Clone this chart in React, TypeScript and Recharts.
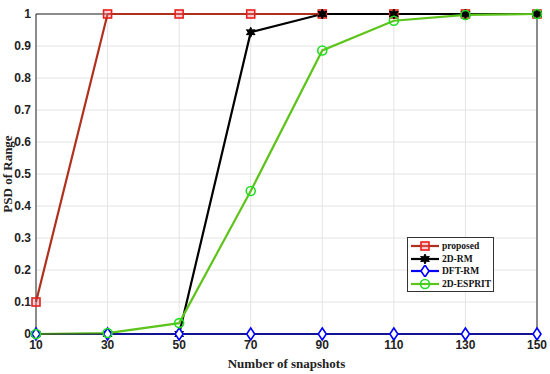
import React from 'react';
import { LineChart, Line, XAxis, YAxis, CartesianGrid, ReferenceLine } from 'recharts';

const snapshots = [10, 30, 50, 70, 90, 110, 130, 150];
const proposed = [0.1, 1, 1, 1, 1, 1, 1, 1];
const rm2d = [0, 0, 0, 0.943, 1, 1, 1, 1];
const dftRm = [0, 0, 0, 0, 0, 0, 0, 0];
const esprit2d = [0, 0.003, 0.034, 0.447, 0.886, 0.979, 0.997, 1];
const yTicks = [0, 0.1, 0.2, 0.3, 0.4, 0.5, 0.6, 0.7, 0.8, 0.9, 1];

const seriesNames = ['proposed', '2D-RM', 'DFT-RM', '2D-ESPRIT'];
const lineColors = ['#b0301e', '#000000', '#0000ff', '#5cc41a'];
const markerColors = ['#e8201a', '#000000', '#0000ff', '#22dd22'];

const data = snapshots.map((s, i) => ({
  x: s,
  proposed: proposed[i],
  rm: rm2d[i],
  dft: dftRm[i],
  esprit: esprit2d[i],
}));

const Marker = ({ kind, cx, cy }: { kind: number; cx: number; cy: number }) => {
  if (kind === 0) {
    return <rect x={cx - 4} y={cy - 4} width={8} height={8} fill="rgba(255,120,140,0.35)" stroke={markerColors[0]} strokeWidth={1.6} />;
  }
  if (kind === 1) {
    const pts: string[] = [];
    for (let k = 0; k < 12; k++) {
      const r = k % 2 === 0 ? 5 : 2.6;
      const a = (Math.PI * k) / 6 - Math.PI / 2;
      pts.push(`${cx + r * Math.cos(a)},${cy + r * Math.sin(a)}`);
    }
    return <polygon points={pts.join(' ')} fill="#000" stroke="#000" strokeWidth={1} />;
  }
  if (kind === 2) {
    return <polygon points={`${cx},${cy - 6} ${cx + 4},${cy} ${cx},${cy + 6} ${cx - 4},${cy}`} fill="#fff" stroke={markerColors[2]} strokeWidth={1.6} />;
  }
  return <circle cx={cx} cy={cy} r={4.5} fill="none" stroke={markerColors[3]} strokeWidth={1.6} />;
};

const dotFor = (kind: number) => (props: any) => (
  <g key={`d${kind}-${props.index}`}>
    <Marker kind={kind} cx={props.cx} cy={props.cy} />
  </g>
);

const tickStyle = { fontFamily: 'Liberation Sans, Arial, sans-serif', fontWeight: 700, fontSize: 12, fill: '#222' };

const XLabel = (props: any) => {
  const vb = props.viewBox;
  return (
    <text x={vb.x + vb.width / 2} y={368} textAnchor="middle" fontFamily="Liberation Serif, serif" fontWeight={700} fontSize={13} fill="#222">
      Number of snapshots
    </text>
  );
};

const YLabel = (props: any) => {
  const vb = props.viewBox;
  const cy = vb.y + vb.height / 2;
  return (
    <text x={12} y={cy} transform={`rotate(-90, 12, ${cy})`} textAnchor="middle" fontFamily="Liberation Serif, serif" fontWeight={700} fontSize={13} fill="#222">
      PSD of Range
    </text>
  );
};

const keys = ['proposed', 'rm', 'dft', 'esprit'];

export default function App() {
  return (
    <div style={{ position: 'fixed', left: 0, top: 0, width: 550, height: 374, background: '#fff' }}>
      <LineChart width={550} height={374} data={data} margin={{ top: 14, right: 13, bottom: 0, left: 0 }}>
        <CartesianGrid stroke="#e4e4e4" strokeWidth={1} />
        <XAxis
          dataKey="x"
          type="number"
          domain={[10, 150]}
          ticks={snapshots}
          height={40}
          tickSize={0}
          tickMargin={6}
          tick={tickStyle}
          axisLine={{ stroke: '#262626' }}
          label={<XLabel />}
        />
        <YAxis
          type="number"
          domain={[0, 1]}
          ticks={yTicks}
          width={36}
          tickSize={0}
          tickMargin={5}
          tick={tickStyle}
          tickFormatter={(v: number) => String(Math.round(v * 10) / 10)}
          axisLine={{ stroke: '#262626' }}
          label={<YLabel />}
        />
        <ReferenceLine y={1} stroke="#262626" strokeWidth={1} />
        <ReferenceLine x={150} stroke="#262626" strokeWidth={1} />
        {keys.map((k, i) => (
          <Line
            key={k}
            dataKey={k}
            name={seriesNames[i]}
            type="linear"
            stroke={lineColors[i]}
            strokeWidth={2.2}
            dot={dotFor(i)}
            activeDot={false}
            isAnimationActive={false}
          />
        ))}
      </LineChart>
      <div
        style={{
          position: 'absolute',
          left: 407,
          top: 237,
          width: 87,
          height: 55,
          border: '1px solid #333',
          background: '#fff',
          boxSizing: 'border-box',
          padding: '2px 0 0 2px',
        }}
      >
        {seriesNames.map((n, i) => (
          <div key={n} style={{ display: 'flex', alignItems: 'center', height: 12.5, whiteSpace: 'nowrap' }}>
            <svg width={30} height={12} style={{ flex: 'none' }}>
              <line x1={1} y1={6} x2={29} y2={6} stroke={lineColors[i]} strokeWidth={2.2} />
              <Marker kind={i} cx={15} cy={6} />
            </svg>
            <span style={{ fontFamily: 'Liberation Serif, serif', fontWeight: 700, fontSize: 9.5, color: '#111', marginLeft: 2, lineHeight: '12px', whiteSpace: 'nowrap' }}>
              {n}
            </span>
          </div>
        ))}
      </div>
    </div>
  );
}
